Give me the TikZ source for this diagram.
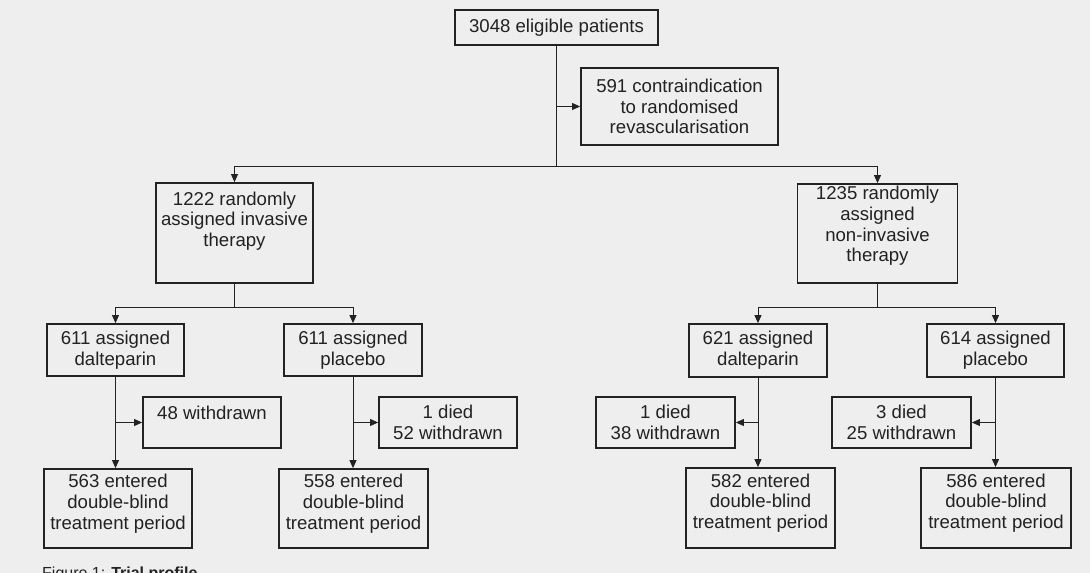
\documentclass[tikz,border=0pt]{standalone}
\usepackage{fontspec}
\setmainfont{Liberation Sans}
\usetikzlibrary{arrows.meta}
\definecolor{ink}{HTML}{222222}
\definecolor{paper}{HTML}{EEEEEE}
\begin{document}
\begin{tikzpicture}[x=1pt,y=-1pt,
  box/.style={draw=ink, line width=1.8pt, inner sep=0pt, anchor=center},
  txt/.style={text=ink, align=center, font=\fontsize{18.6}{20.7}\selectfont, inner sep=0pt},
  con/.style={draw=ink, line width=0.9pt},
  arr/.style={con, -{Triangle[length=8pt,width=7pt]}}]
\useasboundingbox[fill=paper] (0,0) rectangle (1090,573);

% top level
\node[box, txt, minimum width=203pt, minimum height=35pt] (top) at (556.5,27.5) {3048 eligible patients};
\node[box, txt, minimum width=197pt, minimum height=77pt] (contra) at (679.5,106.5) {591 contraindication\\to randomised\\revascularisation};

% randomised arms
\node[box, minimum width=157pt, minimum height=100pt] (inv) at (234.5,233) {};
\node[txt] (invt) at ([yshift=12pt]inv.center) {1222 randomly\\assigned invasive\\therapy};
\node[box, minimum width=160pt, minimum height=99pt] (non) at (877.5,233.5) {};
\node[txt] (nont) at ([yshift=7.5pt]non.center) {1235 randomly\\assigned\\non-invasive\\therapy};

% drug arms
\node[box, txt, minimum width=137pt, minimum height=52pt] (d1) at (115.5,350) {611 assigned\\dalteparin};
\node[box, txt, minimum width=138pt, minimum height=52pt] (p1) at (353,350) {611 assigned\\placebo};
\node[box, txt, minimum width=138pt, minimum height=53pt] (d2) at (758,350.5) {621 assigned\\dalteparin};
\node[box, txt, minimum width=137pt, minimum height=53pt] (p2) at (995.5,350.5) {614 assigned\\placebo};

% withdrawals
\node[box, minimum width=138pt, minimum height=51pt] (w1) at (212,422.5) {};
\node[txt] (w1t) at ([yshift=10pt]w1.center) {48 withdrawn};
\node[box, txt, minimum width=138pt, minimum height=51pt] (w2) at (448,422.5) {1 died\\52 withdrawn};
\node[box, txt, minimum width=139pt, minimum height=51pt] (w3) at (665.5,422.5) {1 died\\38 withdrawn};
\node[box, txt, minimum width=139pt, minimum height=51pt] (w4) at (901.5,422.5) {3 died\\25 withdrawn};

% entered
\node[box, minimum width=148pt, minimum height=79pt] (e1) at (118,508.5) {};
\node[txt] (e1t) at ([yshift=5pt]e1.center) {563 entered\\double-blind\\treatment period};
\node[box, minimum width=149pt, minimum height=79pt] (e2) at (353.5,508.5) {};
\node[txt] (e2t) at ([yshift=5pt]e2.center) {558 entered\\double-blind\\treatment period};
\node[box, minimum width=149pt, minimum height=80pt] (e3) at (760.5,508) {};
\node[txt] (e3t) at ([yshift=5pt]e3.center) {582 entered\\double-blind\\treatment period};
\node[box, minimum width=150pt, minimum height=80pt] (e4) at (996,508) {};
\node[txt] (e4t) at ([yshift=5pt]e4.center) {586 entered\\double-blind\\treatment period};

% caption
\node[anchor=base west, text=ink, font=\fontsize{16}{19}\selectfont, inner sep=0pt] (cap) at (42,578) {Figure 1: \textbf{Trial profile}};

% connectors
\coordinate (j0) at (556.5,166);
\draw[con] (top.south) -- (j0);
\draw[arr] (top.south |- contra.west) -- (contra.west);
\draw[arr] (j0) -| (inv.north);
\draw[arr] (j0) -| (non.north);

\coordinate (j1) at (234.5,307);
\draw[con] (inv.south) -- (j1);
\draw[arr] (j1) -| (d1.north);
\draw[arr] (j1) -| (p1.north);

\coordinate (j2) at (877.5,307);
\draw[con] (non.south) -- (j2);
\draw[arr] (j2) -| (d2.north);
\draw[arr] (j2) -| (p2.north);

\draw[arr] (d1.south) -- (d1.south |- e1.north);
\draw[arr] (d1.south |- w1.west) -- (w1.west);
\draw[arr] (p1.south) -- (p1.south |- e2.north);
\draw[arr] (p1.south |- w2.west) -- (w2.west);
\draw[arr] (d2.south) -- (d2.south |- e3.north);
\draw[arr] (d2.south |- w3.east) -- (w3.east);
\draw[arr] (p2.south) -- (p2.south |- e4.north);
\draw[arr] (p2.south |- w4.east) -- (w4.east);
\end{tikzpicture}
\end{document}
